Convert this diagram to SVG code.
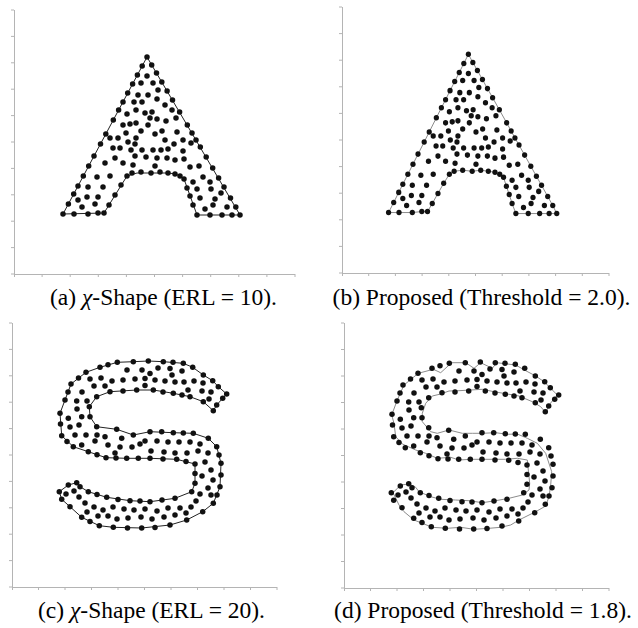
<svg xmlns="http://www.w3.org/2000/svg" xmlns:xlink="http://www.w3.org/1999/xlink" width="638" height="628" viewBox="0 0 638 628">
<style>
.axis{fill:none;stroke:#b4b4b4;stroke-width:1}
.hullA{fill:none;stroke:#222;stroke-width:1;stroke-linejoin:round}
.hullB{fill:none;stroke:#8c8c8c;stroke-width:1;stroke-linejoin:round}
.dots circle{fill:#111}
.cap{font-family:"Liberation Serif","Times New Roman",serif;font-size:23.5px;fill:#000;text-anchor:middle}
</style>
<defs>
<g id="Adots" class="dots">
<circle cx="147" cy="57" r="2.75"/><circle cx="142.2" cy="66" r="2.75"/><circle cx="137.4" cy="75" r="2.75"/><circle cx="132.6" cy="84" r="2.75"/><circle cx="127.7" cy="93" r="2.75"/><circle cx="123" cy="102" r="2.75"/><circle cx="118.6" cy="110" r="2.75"/><circle cx="113.3" cy="120" r="2.75"/><circle cx="105.8" cy="134" r="2.75"/><circle cx="100.5" cy="144" r="2.75"/><circle cx="94" cy="156" r="2.75"/><circle cx="88.7" cy="166" r="2.75"/><circle cx="83.3" cy="176" r="2.75"/><circle cx="78" cy="186" r="2.75"/><circle cx="73.7" cy="194" r="2.75"/><circle cx="68.4" cy="204" r="2.75"/><circle cx="63" cy="214" r="2.75"/>
<circle cx="74" cy="214" r="2.75"/><circle cx="88" cy="214" r="2.75"/><circle cx="98" cy="213" r="2.75"/><circle cx="104" cy="213" r="2.75"/><circle cx="109" cy="205" r="2.75"/><circle cx="115" cy="195" r="2.75"/><circle cx="121" cy="185" r="2.75"/><circle cx="127" cy="176" r="2.75"/><circle cx="132" cy="173" r="2.75"/><circle cx="141" cy="172" r="2.75"/><circle cx="151" cy="173" r="2.75"/><circle cx="160" cy="172" r="2.75"/><circle cx="168" cy="173" r="2.75"/><circle cx="175" cy="174" r="2.75"/><circle cx="180" cy="176" r="2.75"/><circle cx="184" cy="179" r="2.75"/><circle cx="187" cy="188" r="2.75"/><circle cx="190" cy="196" r="2.75"/><circle cx="193" cy="205" r="2.75"/><circle cx="197" cy="215" r="2.75"/><circle cx="210" cy="215" r="2.75"/><circle cx="222" cy="215" r="2.75"/><circle cx="232" cy="215" r="2.75"/><circle cx="240" cy="215" r="2.75"/>
<circle cx="235.8" cy="207" r="2.75"/><circle cx="230.5" cy="198" r="2.75"/><circle cx="224" cy="187" r="2.75"/><circle cx="218.6" cy="178" r="2.75"/><circle cx="212.7" cy="168" r="2.75"/><circle cx="206.2" cy="157" r="2.75"/><circle cx="200.3" cy="147" r="2.75"/><circle cx="196" cy="140" r="2.75"/><circle cx="192" cy="133" r="2.75"/><circle cx="187.3" cy="125" r="2.75"/><circle cx="179.6" cy="112" r="2.75"/><circle cx="172.5" cy="100" r="2.75"/><circle cx="167.1" cy="91" r="2.75"/><circle cx="161.8" cy="82" r="2.75"/><circle cx="156.5" cy="73" r="2.75"/><circle cx="151.7" cy="65" r="2.75"/>
<circle cx="147" cy="76" r="2.75"/><circle cx="141" cy="83" r="2.75"/><circle cx="153" cy="83" r="2.75"/><circle cx="138" cy="95" r="2.75"/><circle cx="148" cy="95" r="2.75"/><circle cx="157" cy="99" r="2.75"/><circle cx="134" cy="102" r="2.75"/><circle cx="165" cy="105" r="2.75"/><circle cx="136" cy="110" r="2.75"/><circle cx="127" cy="114" r="2.75"/><circle cx="145" cy="113" r="2.75"/><circle cx="152" cy="112" r="2.75"/><circle cx="172" cy="110" r="2.75"/><circle cx="150" cy="118" r="2.75"/><circle cx="123" cy="125" r="2.75"/><circle cx="130" cy="124" r="2.75"/><circle cx="136" cy="123" r="2.75"/><circle cx="157" cy="119" r="2.75"/><circle cx="166" cy="121" r="2.75"/><circle cx="176" cy="118" r="2.75"/><circle cx="141" cy="131" r="2.75"/><circle cx="148" cy="125" r="2.75"/><circle cx="162" cy="131" r="2.75"/><circle cx="177" cy="132" r="2.75"/><circle cx="136" cy="138" r="2.75"/><circle cx="110" cy="138" r="2.75"/><circle cx="118" cy="138" r="2.75"/><circle cx="135" cy="144" r="2.75"/><circle cx="165" cy="140" r="2.75"/><circle cx="174" cy="144" r="2.75"/><circle cx="183" cy="140" r="2.75"/><circle cx="191" cy="143" r="2.75"/><circle cx="113" cy="148" r="2.75"/><circle cx="120" cy="148" r="2.75"/><circle cx="131" cy="150" r="2.75"/><circle cx="142" cy="150" r="2.75"/><circle cx="153" cy="150" r="2.75"/><circle cx="161" cy="150" r="2.75"/><circle cx="168" cy="149" r="2.75"/><circle cx="183" cy="151" r="2.75"/><circle cx="135" cy="156" r="2.75"/><circle cx="146" cy="157" r="2.75"/><circle cx="157" cy="158" r="2.75"/><circle cx="167" cy="158" r="2.75"/><circle cx="175" cy="160" r="2.75"/><circle cx="184" cy="159" r="2.75"/><circle cx="115" cy="158" r="2.75"/><circle cx="105" cy="163" r="2.75"/><circle cx="123" cy="163" r="2.75"/><circle cx="133" cy="165" r="2.75"/><circle cx="155" cy="166" r="2.75"/><circle cx="190" cy="167" r="2.75"/><circle cx="199" cy="166" r="2.75"/><circle cx="97" cy="177" r="2.75"/><circle cx="110" cy="176" r="2.75"/><circle cx="193" cy="182" r="2.75"/><circle cx="203" cy="177" r="2.75"/><circle cx="210" cy="182" r="2.75"/><circle cx="103" cy="187" r="2.75"/><circle cx="88" cy="187" r="2.75"/><circle cx="197" cy="189" r="2.75"/><circle cx="211" cy="189" r="2.75"/><circle cx="221" cy="193" r="2.75"/><circle cx="87" cy="197" r="2.75"/><circle cx="98" cy="197" r="2.75"/><circle cx="200" cy="198" r="2.75"/><circle cx="215" cy="199" r="2.75"/><circle cx="82" cy="207" r="2.75"/><circle cx="95" cy="204" r="2.75"/><circle cx="78" cy="200" r="2.75"/><circle cx="205" cy="209" r="2.75"/><circle cx="213" cy="205" r="2.75"/><circle cx="227" cy="207" r="2.75"/>
<circle cx="158" cy="90" r="2.75"/><circle cx="142" cy="102" r="2.75"/><circle cx="126" cy="133" r="2.75"/><circle cx="155" cy="134" r="2.75"/><circle cx="128" cy="142" r="2.75"/>
</g>
<g id="Sdots" class="dots">
<circle cx="226.7" cy="394" r="2.75"/><circle cx="218.3" cy="386.7" r="2.75"/><circle cx="212.7" cy="380.7" r="2.75"/><circle cx="203.3" cy="375" r="2.75"/><circle cx="192.7" cy="367.3" r="2.75"/><circle cx="183.3" cy="363.3" r="2.75"/><circle cx="173" cy="362.3" r="2.75"/><circle cx="163.3" cy="361.7" r="2.75"/><circle cx="148.3" cy="361" r="2.75"/><circle cx="133.3" cy="361.7" r="2.75"/><circle cx="117.3" cy="362.3" r="2.75"/><circle cx="108" cy="364.8" r="2.75"/><circle cx="100" cy="367.3" r="2.75"/><circle cx="86" cy="372.3" r="2.75"/><circle cx="78.5" cy="378" r="2.75"/><circle cx="71" cy="384" r="2.75"/><circle cx="68" cy="392" r="2.75"/><circle cx="65" cy="400" r="2.75"/><circle cx="60" cy="413.3" r="2.75"/><circle cx="60.5" cy="424" r="2.75"/><circle cx="61.7" cy="435.7" r="2.75"/><circle cx="67" cy="441.5" r="2.75"/><circle cx="73.3" cy="446.7" r="2.75"/><circle cx="88.3" cy="451.7" r="2.75"/><circle cx="97" cy="454.7" r="2.75"/><circle cx="106" cy="457.7" r="2.75"/><circle cx="116" cy="458" r="2.75"/><circle cx="126.7" cy="458.3" r="2.75"/><circle cx="138.3" cy="458.3" r="2.75"/><circle cx="150" cy="458.3" r="2.75"/><circle cx="163" cy="459" r="2.75"/><circle cx="176.7" cy="459.3" r="2.75"/><circle cx="186" cy="461.5" r="2.75"/><circle cx="195" cy="464" r="2.75"/><circle cx="195" cy="473.5" r="2.75"/><circle cx="195" cy="483.3" r="2.75"/><circle cx="191.7" cy="491.7" r="2.75"/><circle cx="175" cy="498.3" r="2.75"/><circle cx="162" cy="500" r="2.75"/><circle cx="150" cy="501.7" r="2.75"/><circle cx="140" cy="501" r="2.75"/><circle cx="130" cy="500.7" r="2.75"/><circle cx="118" cy="499.5" r="2.75"/><circle cx="106.7" cy="497.3" r="2.75"/><circle cx="97" cy="494.5" r="2.75"/><circle cx="88.3" cy="491.7" r="2.75"/><circle cx="80" cy="486.7" r="2.75"/><circle cx="76.7" cy="482.7" r="2.75"/><circle cx="68.3" cy="485" r="2.75"/><circle cx="59.3" cy="491.7" r="2.75"/><circle cx="61.7" cy="499.3" r="2.75"/><circle cx="70" cy="506.7" r="2.75"/><circle cx="81.7" cy="517.3" r="2.75"/><circle cx="90" cy="521.5" r="2.75"/><circle cx="99.3" cy="525.7" r="2.75"/><circle cx="113.3" cy="527.3" r="2.75"/><circle cx="127.5" cy="528" r="2.75"/><circle cx="141.7" cy="528" r="2.75"/><circle cx="155" cy="527.5" r="2.75"/><circle cx="170" cy="525" r="2.75"/><circle cx="186.7" cy="520" r="2.75"/><circle cx="202.7" cy="511.7" r="2.75"/><circle cx="213.3" cy="503.3" r="2.75"/><circle cx="217" cy="495" r="2.75"/><circle cx="220" cy="486.7" r="2.75"/><circle cx="221" cy="475" r="2.75"/><circle cx="221" cy="463.3" r="2.75"/><circle cx="219" cy="455" r="2.75"/><circle cx="216.7" cy="446.7" r="2.75"/><circle cx="208.3" cy="438.3" r="2.75"/><circle cx="193.3" cy="433.3" r="2.75"/><circle cx="183.3" cy="433" r="2.75"/><circle cx="173.3" cy="432.7" r="2.75"/><circle cx="161.7" cy="431.7" r="2.75"/><circle cx="150" cy="431.7" r="2.75"/><circle cx="133.3" cy="435" r="2.75"/><circle cx="116.7" cy="429.3" r="2.75"/><circle cx="96.7" cy="426.7" r="2.75"/><circle cx="90" cy="416.7" r="2.75"/><circle cx="89.3" cy="406.7" r="2.75"/><circle cx="96.7" cy="396.7" r="2.75"/><circle cx="110" cy="391.7" r="2.75"/><circle cx="123" cy="391" r="2.75"/><circle cx="136.7" cy="390" r="2.75"/><circle cx="153.3" cy="390" r="2.75"/><circle cx="163" cy="392" r="2.75"/><circle cx="173.3" cy="393.3" r="2.75"/><circle cx="182" cy="395" r="2.75"/><circle cx="190" cy="396.7" r="2.75"/><circle cx="203.3" cy="401.7" r="2.75"/><circle cx="213.3" cy="410.7" r="2.75"/><circle cx="216.7" cy="405" r="2.75"/><circle cx="222.7" cy="398.3" r="2.75"/>
<circle cx="127" cy="370" r="2.75"/><circle cx="142" cy="370" r="2.75"/><circle cx="158" cy="368" r="2.75"/><circle cx="170" cy="368.5" r="2.75"/><circle cx="182" cy="371" r="2.75"/><circle cx="150" cy="373.5" r="2.75"/><circle cx="172" cy="375" r="2.75"/><circle cx="90" cy="379" r="2.75"/><circle cx="101" cy="378" r="2.75"/><circle cx="112" cy="381" r="2.75"/><circle cx="123" cy="380" r="2.75"/><circle cx="135" cy="379" r="2.75"/><circle cx="145" cy="378.5" r="2.75"/><circle cx="155" cy="380" r="2.75"/><circle cx="165" cy="381" r="2.75"/><circle cx="175" cy="382" r="2.75"/><circle cx="184" cy="382" r="2.75"/><circle cx="194" cy="381" r="2.75"/><circle cx="203" cy="383" r="2.75"/><circle cx="94" cy="386" r="2.75"/><circle cx="105" cy="386" r="2.75"/><circle cx="145" cy="385.5" r="2.75"/><circle cx="188" cy="390" r="2.75"/><circle cx="202" cy="391" r="2.75"/><circle cx="211" cy="392" r="2.75"/><circle cx="209" cy="399" r="2.75"/><circle cx="82" cy="392" r="2.75"/><circle cx="76.7" cy="401" r="2.75"/><circle cx="87" cy="401" r="2.75"/><circle cx="77" cy="409" r="2.75"/><circle cx="68.3" cy="418.3" r="2.75"/><circle cx="81.7" cy="416.7" r="2.75"/><circle cx="70" cy="427" r="2.75"/><circle cx="79" cy="425" r="2.75"/><circle cx="75" cy="435" r="2.75"/><circle cx="86" cy="435" r="2.75"/><circle cx="97" cy="435" r="2.75"/><circle cx="105" cy="436.7" r="2.75"/><circle cx="121.7" cy="438.3" r="2.75"/><circle cx="81.7" cy="445" r="2.75"/><circle cx="95" cy="441" r="2.75"/><circle cx="108" cy="445" r="2.75"/><circle cx="120" cy="447" r="2.75"/><circle cx="132" cy="447" r="2.75"/><circle cx="140" cy="444" r="2.75"/><circle cx="115" cy="453" r="2.75"/><circle cx="145" cy="441" r="2.75"/><circle cx="157" cy="441" r="2.75"/><circle cx="168" cy="442" r="2.75"/><circle cx="179" cy="442" r="2.75"/><circle cx="190" cy="442" r="2.75"/><circle cx="200" cy="444" r="2.75"/><circle cx="151" cy="451" r="2.75"/><circle cx="164" cy="452" r="2.75"/><circle cx="175" cy="453" r="2.75"/><circle cx="187" cy="453" r="2.75"/><circle cx="198" cy="451" r="2.75"/><circle cx="208" cy="453" r="2.75"/><circle cx="205" cy="462" r="2.75"/><circle cx="211" cy="470" r="2.75"/><circle cx="202" cy="476" r="2.75"/><circle cx="213" cy="480" r="2.75"/><circle cx="208" cy="488" r="2.75"/><circle cx="200" cy="494" r="2.75"/><circle cx="211" cy="495" r="2.75"/><circle cx="196" cy="501" r="2.75"/><circle cx="145" cy="509" r="2.75"/><circle cx="157" cy="511" r="2.75"/><circle cx="168" cy="508" r="2.75"/><circle cx="180" cy="508" r="2.75"/><circle cx="191" cy="507" r="2.75"/><circle cx="141" cy="517" r="2.75"/><circle cx="152" cy="519" r="2.75"/><circle cx="164" cy="517" r="2.75"/><circle cx="175" cy="515" r="2.75"/><circle cx="186" cy="513" r="2.75"/><circle cx="66" cy="494" r="2.75"/><circle cx="74" cy="491" r="2.75"/><circle cx="79" cy="497" r="2.75"/><circle cx="85" cy="503" r="2.75"/><circle cx="94" cy="507" r="2.75"/><circle cx="87" cy="512" r="2.75"/><circle cx="103" cy="510" r="2.75"/><circle cx="113" cy="507" r="2.75"/><circle cx="124" cy="509" r="2.75"/><circle cx="134" cy="510" r="2.75"/><circle cx="98" cy="516" r="2.75"/><circle cx="108" cy="516" r="2.75"/><circle cx="117" cy="519" r="2.75"/><circle cx="128" cy="518" r="2.75"/>
</g>
</defs>

<g id="panel-a">
<path class="axis" d="M14.5 10V274.5H295M11 10h3M11 36.4h3M11 62.8h3M11 89.2h3M11 115.6h3M11 142h3M11 168.4h3M11 194.8h3M11 221.2h3M11 247.6h3M11 274h3M14.5 274v3M42.1 274v3M70.2 274v3M98.3 274v3M126.4 274v3M154.5 274v3M182.6 274v3M210.7 274v3M238.8 274v3M266.9 274v3M295 274v3"/>
<polygon class="hullA" points="63,214 147,57 240,215 197,215 184,179 176,174 168,173 137,173 127,176 104,213"/>
<use xlink:href="#Adots"/>
<text class="cap" font-family="Liberation Serif, serif" x="163.5" y="305">(a) <tspan font-style="italic">χ</tspan>-Shape (ERL = 10).</text>
</g>

<g id="panel-b">
<path class="axis" d="M342.5 7V273.5H609M339 7h3M339 33.6h3M339 60.2h3M339 86.8h3M339 113.4h3M339 140h3M339 166.6h3M339 193.2h3M339 219.8h3M339 246.4h3M339 273h3M342.5 273v3M368.7 273v3M395.4 273v3M422.1 273v3M448.8 273v3M475.5 273v3M502.2 273v3M528.9 273v3M555.6 273v3M582.3 273v3M609 273v3"/>
<g transform="matrix(0.9502 0 0 1.0076 328.7 -3.08)">
<polygon class="hullB" vector-effect="non-scaling-stroke" points="63,214 74,214 88,214 98,213 104,213 109,205 115,195 121,185 127,176 132,173 141,172 151,173 160,172 168,173 175,174 180,176 184,179 187,188 190,196 193,205 197,215 210,215 222,215 232,215 240,215 235.8,207 230.5,198 224,187 218.6,178 212.7,168 206.2,157 200.3,147 196,140 192,133 187.3,125 179.6,112 172.5,100 167.1,91 161.8,82 156.5,73 151.7,65 147,57 142.2,66 137.4,75 132.6,84 127.7,93 123,102 118.6,110 113.3,120 105.8,134 100.5,144 94,156 88.7,166 83.3,176 78,186 73.7,194 68.4,204"/>
<use xlink:href="#Adots"/>
</g>
<text class="cap" font-family="Liberation Serif, serif" x="481.5" y="305">(b) Proposed (Threshold = 2.0).</text>
</g>

<g id="panel-c">
<path class="axis" d="M12.5 323V587.5H277M9 323h3M9 349.4h3M9 375.8h3M9 402.2h3M9 428.6h3M9 455h3M9 481.4h3M9 507.8h3M9 534.2h3M9 560.6h3M9 587h3M12.5 587v3M38.5 587v3M65 587v3M91.5 587v3M118 587v3M144.5 587v3M171 587v3M197.5 587v3M224 587v3M250.5 587v3M277 587v3"/>
<polygon class="hullA" points="226.7,394 218.3,386.7 212.7,380.7 203.3,375 192.7,367.3 183.3,363.3 163.3,361.7 148.3,361 133.3,361.7 117.3,362.3 100,367.3 86,372.3 71,384 65,400 60,413.3 61.7,435.7 73.3,446.7 88.3,451.7 106,457.7 126.7,458.3 150,458.3 176.7,459.3 195,464 195,483.3 191.7,491.7 175,498.3 150,501.7 130,500.7 106.7,497.3 88.3,491.7 80,486.7 76.7,482.7 68.3,485 59.3,491.7 61.7,499.3 70,506.7 81.7,517.3 99.3,525.7 113.3,527.3 141.7,528 170,525 186.7,520 202.7,511.7 213.3,503.3 220,486.7 221,463.3 216.7,446.7 208.3,438.3 193.3,433.3 173.3,432.7 150,431.7 133.3,435 116.7,429.3 96.7,426.7 90,416.7 89.3,406.7 96.7,396.7 110,391.7 136.7,390 153.3,390 173.3,393.3 190,396.7 203.3,401.7 213.3,410.7 216.7,405 222.7,398.3"/>
<use xlink:href="#Sdots"/>
<text class="cap" font-family="Liberation Serif, serif" x="151.5" y="618">(c) <tspan font-style="italic">χ</tspan>-Shape (ERL = 20).</text>
</g>

<g id="panel-d">
<path class="axis" d="M344.5 323V588.5H609M341 323h3M341 349.5h3M341 376h3M341 402.5h3M341 429h3M341 455.5h3M341 482h3M341 508.5h3M341 535h3M341 561.5h3M341 588h3M344.5 588v3M370.5 588v3M397 588v3M423.5 588v3M450 588v3M476.5 588v3M503 588v3M529.5 588v3M556 588v3M582.5 588v3M609 588v3"/>
<polygon class="hullB" points="418.3,373.3 433.3,369.3 440.7,372.7 451.7,362.7 465.7,362.7 474,368.3 480.7,362.7 492.3,368.3 496.7,362.7 515.7,365 525.7,370.7 535.7,376 544,381.7 550.7,388.3 557.3,395 549,405 545.7,412.7 540.7,406.7 532.3,401.7 519,396 507.3,394 494,391.7 482.3,389.3 470.7,390 459,390.7 449,391 440.7,394 432.3,396 425.7,403.3 422.3,413.3 422.3,421.7 430.7,431.7 437.3,433.3 449,430 462.3,433.3 472.3,433.3 482.3,433.3 495.7,432.7 507.3,434.3 517.3,434 527.3,438.3 537.3,443.3 545.7,453.3 551.7,471.7 550.7,485 549,496.7 545.7,506 535.7,511.7 519,520 510.7,525 500.7,527.3 489,528.3 474,529.3 460.7,527.3 447.3,528.3 432.3,527.3 414,520 404,511.7 399,505 393,492.7 400.7,485 409,484 415.7,487.3 419,491.7 430.7,496.7 440.7,499.3 455.7,500 469,500.7 482.3,502.7 495.7,500.7 509,498.3 522.3,495 529,490 529.7,483.3 528.3,470 527.3,460 517.3,458.3 505.7,459.3 492.3,459.3 482.3,459.3 470.7,459.3 459,460 450.7,457.3 437.3,458.3 425.7,453.3 415.7,450 402.3,444 395.7,436.7 394,423.3 391.7,415 397.3,400 404,385"/>
<use xlink:href="#Sdots" transform="translate(332 1)"/>
<text class="cap" font-family="Liberation Serif, serif" x="483" y="618">(d) Proposed (Threshold = 1.8).</text>
</g>
</svg>
